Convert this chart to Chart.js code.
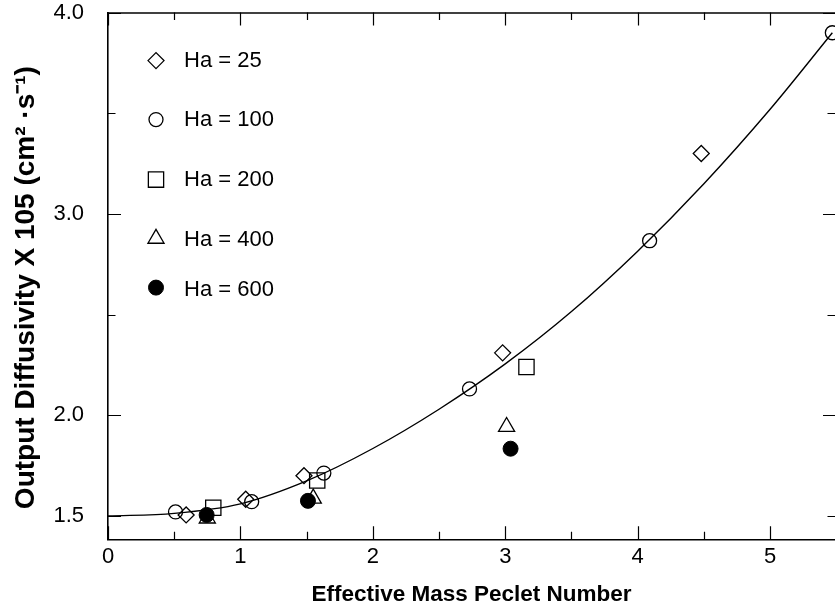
<!DOCTYPE html>
<html>
<head>
<meta charset="utf-8">
<script src="https://cdn.jsdelivr.net/npm/chart.js@4.4.1/dist/chart.umd.min.js"></script>
<style>
  html, body { margin: 0; padding: 0; background: #ffffff; overflow: hidden; }
  #wrap { width: 835px; height: 609px; position: relative; }
  canvas { display: block; }
</style>
</head>
<body>
<div id="wrap"><canvas id="c" width="835" height="609"></canvas></div>
<script>
// ---- Data ----
const ha25X  = [0.59, 1.04, 1.48, 2.98, 4.48];
const ha25Y  = [1.505, 1.583, 1.70, 2.31, 3.30];

const ha100X = [0.51, 1.085, 1.63, 2.73, 4.09, 5.47];
const ha100Y = [1.52, 1.571, 1.713, 2.131, 2.867, 3.90];

const ha200X = [0.795, 1.58, 3.16];
const ha200Y = [1.541, 1.676, 2.24];

const ha400X = [0.75, 1.55, 3.01];
const ha400Y = [1.488, 1.587, 1.943];

const ha600X = [0.745, 1.51, 3.04];
const ha600Y = [1.505, 1.575, 1.834];

// fitted curve
const curveX = [0, 0.5, 1.0, 1.5, 2.0, 2.5, 3.0, 3.5, 4.0, 4.5, 5.0, 5.47];
const curveY = [1.50, 1.513, 1.56, 1.674, 1.835, 2.03, 2.255, 2.515, 2.815, 3.15, 3.52, 3.90];

const seriesLabels = ['Ha = 25', 'Ha = 100', 'Ha = 200', 'Ha = 400', 'Ha = 600'];

// ticks
const xTicks      = [0, 1, 2, 3, 4, 5];
const xMinorTicks = [0.5, 1.5, 2.5, 3.5, 4.5];
const yTicks      = [1.5, 2.0, 3.0, 4.0];
const yMinorTicks = [2.5, 3.5];
const yRightMajor = [2.0, 3.0, 4.0];
const yRightMinor = [1.5, 2.5, 3.5];

const xTitle = 'Effective Mass Peclet Number';
const yTitle = 'Output Diffusivity X 105 (cm\u00B2 \u00B7s\u207B\u00B9)   ';

function pts(xs, ys) { return xs.map((x, i) => ({ x: x, y: ys[i] })); }

const FONT = "'Liberation Sans', Arial, Helvetica, sans-serif";

const markerCommon = { showLine: false, borderColor: '#000', borderWidth: 1.3, backgroundColor: 'rgba(0,0,0,0)' };

const datasets = [
  { label: seriesLabels[4], data: pts(ha600X, ha600Y), showLine: false, pointStyle: 'circle', pointRadius: 7.5, backgroundColor: '#000', borderColor: '#000', borderWidth: 1, order: 0 },
  Object.assign({}, markerCommon, { label: seriesLabels[0], data: pts(ha25X, ha25Y), pointStyle: 'rectRot', pointRadius: 8, order: 1 }),
  Object.assign({}, markerCommon, { label: seriesLabels[1], data: pts(ha100X, ha100Y), pointStyle: 'circle', pointRadius: 7, order: 2 }),
  Object.assign({}, markerCommon, { label: seriesLabels[2], data: pts(ha200X, ha200Y), pointStyle: 'rect', pointRadius: 10.8, order: 3 }),
  Object.assign({}, markerCommon, { label: seriesLabels[3], data: pts(ha400X, ha400Y), pointStyle: 'triangle', pointRadius: 9.3, order: 4 }),
  { label: 'fit', data: pts(curveX, curveY), showLine: true, borderColor: '#000', borderWidth: 1.4, pointRadius: 0, cubicInterpolationMode: 'monotone', fill: false, order: 10 }
];

// legend: draws each series' marker + label inside the plot area
const legendPlugin = {
  id: 'insideLegend',
  afterDraw(chart, args, opts) {
    const ctx = chart.ctx;
    ctx.save();
    ctx.font = opts.font;
    ctx.fillStyle = '#000';
    ctx.textBaseline = 'middle';
    ctx.textAlign = 'left';
    opts.entries.forEach(e => {
      const ds = chart.data.datasets.find(d => d.label === e.label);
      const cx = chart.chartArea.left + opts.symbolX;
      const cy = chart.chartArea.top + e.dy;
      ctx.save();
      ctx.strokeStyle = '#000';
      ctx.lineWidth = ds.borderWidth;
      ctx.fillStyle = ds.backgroundColor;
      Chart.helpers.drawPoint(ctx, { pointStyle: ds.pointStyle, radius: ds.pointRadius, borderWidth: ds.borderWidth, rotation: 0 }, cx, cy);
      ctx.restore();
      ctx.fillText(e.label, chart.chartArea.left + opts.textX, cy + (e.tdy || 0));
    });
    ctx.restore();
  }
};

// inward tick marks on all four sides + top frame line
const frameTicksPlugin = {
  id: 'frameTicks',
  afterDatasetsDraw(chart) {
    const ctx = chart.ctx;
    const a = chart.chartArea;
    const xs = chart.scales.x, ys = chart.scales.y;
    const MAJ = 13, MIN = 7.5;
    ctx.save();
    ctx.strokeStyle = '#000';
    ctx.lineWidth = 1.2;
    ctx.beginPath();
    xTicks.forEach(v => { const p = Math.round(xs.getPixelForValue(v)) + 0.5; ctx.moveTo(p, a.bottom); ctx.lineTo(p, a.bottom - MAJ); ctx.moveTo(p, a.top); ctx.lineTo(p, a.top + MAJ); });
    xMinorTicks.forEach(v => { const p = Math.round(xs.getPixelForValue(v)) + 0.5; ctx.moveTo(p, a.bottom); ctx.lineTo(p, a.bottom - MIN); ctx.moveTo(p, a.top); ctx.lineTo(p, a.top + MIN); });
    yTicks.forEach(v => { const p = Math.round(ys.getPixelForValue(v)) + 0.5; ctx.moveTo(a.left, p); ctx.lineTo(a.left + MAJ, p); });
    yMinorTicks.forEach(v => { const p = Math.round(ys.getPixelForValue(v)) + 0.5; ctx.moveTo(a.left, p); ctx.lineTo(a.left + MIN, p); });
    yRightMajor.forEach(v => { const p = Math.round(ys.getPixelForValue(v)) + 0.5; ctx.moveTo(a.right, p); ctx.lineTo(a.right - 12, p); });
    yRightMinor.forEach(v => { const p = Math.round(ys.getPixelForValue(v)) + 0.5; ctx.moveTo(a.right, p); ctx.lineTo(a.right - MIN, p); });
    ctx.stroke();
    ctx.lineWidth = 1.5;
    ctx.beginPath();
    ctx.moveTo(a.left, a.top + 0.5); ctx.lineTo(a.right, a.top + 0.5);
    ctx.stroke();
    ctx.restore();
  }
};

function zeroPad(s) { s.paddingTop = 0; s.paddingBottom = 0; s.paddingLeft = 0; s.paddingRight = 0; }

new Chart(document.getElementById('c'), {
  type: 'scatter',
  data: { datasets: datasets },
  plugins: [frameTicksPlugin, legendPlugin],
  options: {
    responsive: false,
    animation: false,
    devicePixelRatio: 1,
    layout: { autoPadding: false, padding: { left: 0, right: 0, top: 12.6, bottom: 0 } },
    plugins: {
      legend: { display: false },
      tooltip: { enabled: false },
      insideLegend: {
        font: '22px ' + FONT,
        symbolX: 48,
        textX: 76,
        entries: [
          { label: seriesLabels[0], dy: 48 },
          { label: seriesLabels[1], dy: 107 },
          { label: seriesLabels[2], dy: 167 },
          { label: seriesLabels[3], dy: 226, tdy: 1 },
          { label: seriesLabels[4], dy: 275, tdy: 2 }
        ]
      }
    },
    scales: {
      x: {
        type: 'linear',
        min: 0,
        max: 5.49,
        afterFit: s => { s.height = 69.7; zeroPad(s); },
        afterBuildTicks: s => { s.ticks = xTicks.map(v => ({ value: v })); },
        grid: { display: false, drawTicks: false },
        border: { display: true, color: '#000', width: 1.6 },
        ticks: { color: '#000', padding: 4, font: { family: FONT, size: 22, lineHeight: 1.2 }, callback: v => String(v), maxRotation: 0 },
        title: { display: true, text: xTitle, color: '#000', font: { family: FONT, size: 22.5, weight: 'bold', lineHeight: 1.2 }, padding: { top: 0, bottom: 1 } }
      },
      y: {
        type: 'linear',
        min: 1.384,
        max: 4.0,
        afterFit: s => { s.width = 108; zeroPad(s); },
        afterBuildTicks: s => { s.ticks = yTicks.map(v => ({ value: v })); },
        grid: { display: false, drawTicks: false },
        border: { display: true, color: '#000', width: 1.6 },
        ticks: { color: '#000', padding: 24, font: { family: FONT, size: 22, lineHeight: 1 }, callback: v => Number(v).toFixed(1) },
        title: { display: true, text: yTitle, color: '#000', font: { family: FONT, size: 28, weight: 'bold', lineHeight: 1.2 }, padding: { top: 9.2, bottom: 0 } }
      }
    }
  }
});
</script>
</body>
</html>
